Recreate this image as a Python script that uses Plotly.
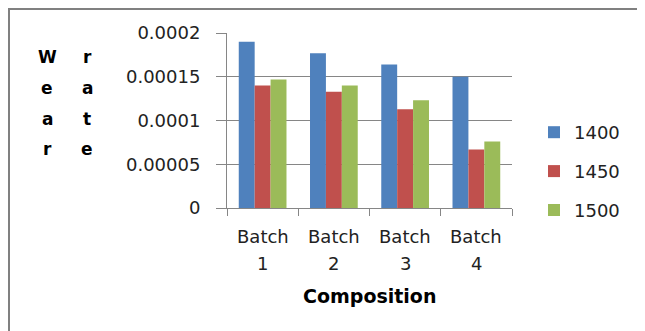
import plotly.graph_objects as go

categories = ["Batch 1", "Batch 2", "Batch 3", "Batch 4"]
cat_line1 = ["Batch", "Batch", "Batch", "Batch"]
cat_line2 = ["1", "2", "3", "4"]
series_names = ["1400", "1450", "1500"]
s1400 = [0.000190, 0.000177, 0.000164, 0.000150]
s1450 = [0.000140, 0.000133, 0.000113, 0.000067]
s1500 = [0.000147, 0.000140, 0.000123, 0.000076]
y_ticks = [0, 0.00005, 0.0001, 0.00015, 0.0002]
y_tick_labels = ["0", "0.00005", "0.0001", "0.00015", "0.0002"]
colors = ["#4F81BD", "#C0504D", "#9BBB59"]

FONT = "DejaVu Sans"
W, H = 645, 331
OFF = 8  # page body margin offset
L, R, T, B = 227 - OFF, 512 - OFF, 33 - OFF, 208 - OFF

def px(x):
    return (x - OFF - L) / (R - L)

def py(y):
    return (B - (y - OFF)) / (B - T)

fig = go.Figure()
for i, (name, vals) in enumerate(zip(series_names, [s1400, s1450, s1500])):
    fig.add_trace(go.Bar(
        x=categories, y=vals, name=name, legendgroup=name,
        marker=dict(color=colors[i], line=dict(width=0)),
    ))

def ann(text, x, y, size, xref="paper", color="#222222", bold=False):
    return dict(text=text, x=x, y=y, xref=xref, yref="paper", showarrow=False,
                xanchor="center", yanchor="middle",
                font=dict(family=FONT, size=size, color=color,
                          weight="bold" if bold else "normal"))

annotations = []
col1 = ["W", "e", "a", "r"]
col2 = ["r", "a", "t", "e"]
rows = [57, 88, 119, 149]
for ch, yy in zip(col1, rows):
    annotations.append(ann(ch, px(47), py(yy), 17, color="black", bold=True))
for ch, yy in zip(col2, rows):
    annotations.append(ann(ch, px(87), py(yy), 17, color="black", bold=True))
for c, l1, l2 in zip(categories, cat_line1, cat_line2):
    annotations.append(ann(l1, c, py(236), 18, xref="x"))
    annotations.append(ann(l2, c, py(263), 18, xref="x"))
annotations.append(ann("Composition", 0.5, py(296), 19, color="black", bold=True))

shapes = [
    dict(type="line", xref="paper", yref="paper", x0=px(8), x1=px(660), y0=py(9), y1=py(9),
         line=dict(color="#808080", width=2)),
    dict(type="line", xref="paper", yref="paper", x0=px(9), x1=px(9), y0=py(8), y1=py(345),
         line=dict(color="#808080", width=2)),
]

fig.update_layout(
    width=W, height=H,
    margin=dict(l=L, r=W - R, t=T, b=H - B),
    paper_bgcolor="white", plot_bgcolor="white",
    barmode="group", bargap=0.33, bargroupgap=0,
    font=dict(family=FONT, size=16, color="#222222"),
    showlegend=True,
    legend=dict(x=px(534), y=py(114), xanchor="left", yanchor="top",
                traceorder="grouped", tracegroupgap=12.5,
                font=dict(family=FONT, size=18, color="#222222"),
                bgcolor="rgba(0,0,0,0)"),
    annotations=annotations,
    shapes=shapes,
    xaxis=dict(showline=True, linecolor="#868686", linewidth=1,
               ticks="outside", ticklen=7, tickcolor="#868686", tickson="boundaries",
               showgrid=False, showticklabels=False, mirror=False),
    yaxis=dict(range=[0, 0.0002], tickvals=y_ticks, ticktext=y_tick_labels,
               showline=True, linecolor="#868686", linewidth=1,
               ticks="outside", ticklen=10, tickcolor="#868686",
               showgrid=True, gridcolor="#868686", gridwidth=1, zeroline=False,
               tickfont=dict(family=FONT, size=18, color="#222222"),
               ticklabelstandoff=12),
)

fig.write_html("out.html")
